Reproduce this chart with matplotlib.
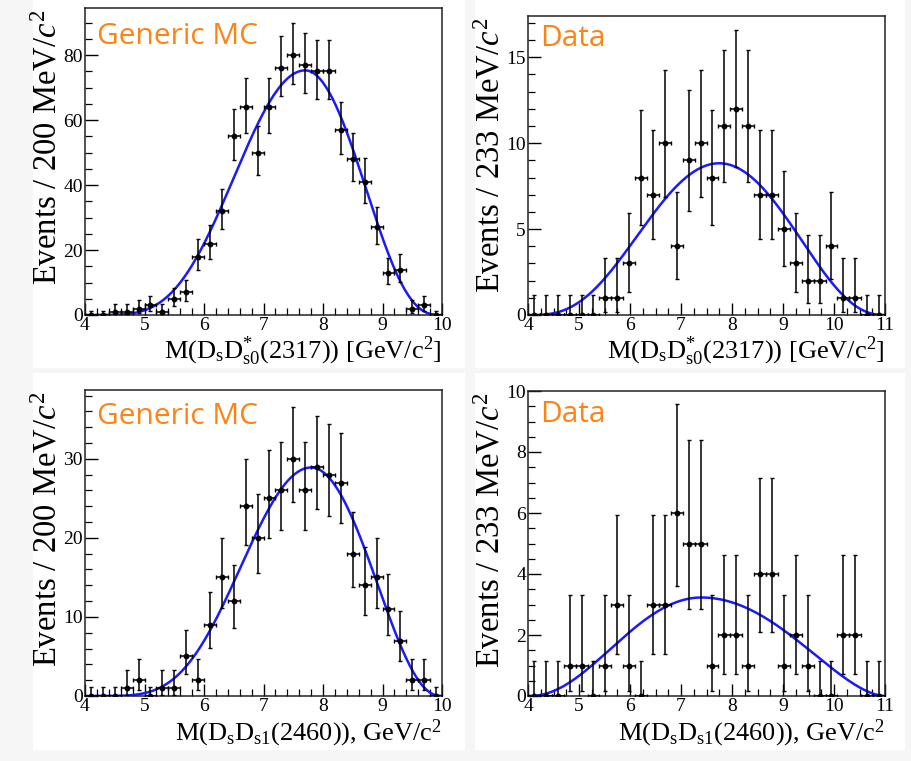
import math
import numpy as np
import matplotlib
matplotlib.use("Agg")
import matplotlib.pyplot as plt
from matplotlib.patches import Rectangle
from matplotlib.ticker import MultipleLocator

plt.rcParams["font.family"] = ["Liberation Serif", "DejaVu Serif"]
plt.rcParams["mathtext.fontset"] = "custom"
plt.rcParams["mathtext.rm"] = "Liberation Serif"
plt.rcParams["mathtext.it"] = "Liberation Serif:italic"
plt.rcParams["mathtext.bf"] = "Liberation Serif:bold"

# ---- histogram contents -------------------------------------------------
mc_range = (4.0, 10.0)          # 30 bins, 200 MeV
data_range = (4.0, 11.0)        # 30 bins, 233 MeV

mc_2317 = [0, 0, 1, 1, 2, 3, 1, 5, 7, 18, 22, 32, 55, 64, 50, 64, 76, 80,
           77, 75, 75, 57, 48, 41, 27, 13, 14, 2, 3, 0]
data_2317 = [0, 0, 0, 0, 0, 0, 1, 1, 3, 8, 7, 10, 4, 9, 10, 8, 11, 12,
             11, 7, 7, 5, 3, 2, 2, 4, 1, 1, 0, 0]
mc_2460 = [0, 0, 0, 1, 2, 0, 1, 1, 5, 2, 9, 15, 12, 24, 20, 25, 26, 30,
           26, 29, 28, 27, 18, 14, 15, 11, 7, 2, 2, 0]
data_2460 = [0, 0, 0, 1, 1, 0, 1, 3, 1, 0, 3, 3, 6, 5, 5, 1, 2, 2,
             1, 4, 4, 1, 2, 1, 0, 0, 2, 2, 0, 0]

# fitted shape: (amplitude, peak, lower end, left power, upper end, right power)
fit_mc_2317 = (75.3, 7.70, 4.0, 5.2, 10.0, 3.0)
fit_data_2317 = (8.83, 7.75, 4.0, 3.2, 11.0, 2.5)
fit_mc_2460 = (28.9, 7.80, 4.0, 5.6, 10.0, 2.4)
fit_data_2460 = (3.23, 7.40, 4.0, 2.3, 11.0, 1.8)

label_2317 = r"M(D$_{\mathrm{s}}$D$^{*}_{\mathrm{s0}}$(2317)) [GeV/c$^{2}$]"
label_2460 = r"M(D$_{\mathrm{s}}$D$_{\mathrm{s1}}$(2460)), GeV/c$^{2}$"

CL_TAIL = 0.158655  # one-sided tail of a 68.27% central interval


def poisson_cdf(n, mu):
    term = math.exp(-mu)
    total = term
    for k in range(1, n + 1):
        term *= mu / k
        total += term
    return total


def bisect(func, lo, hi, target, increasing):
    for _ in range(80):
        mid = 0.5 * (lo + hi)
        if (func(mid) < target) == increasing:
            lo = mid
        else:
            hi = mid
    return 0.5 * (lo + hi)


def poisson_interval(n):
    if n == 0:
        return 0.0, -math.log(2 * CL_TAIL)
    lo = bisect(lambda m: 1 - poisson_cdf(n - 1, m), 0.0, float(n), CL_TAIL, True)
    hi = bisect(lambda m: poisson_cdf(n, m), float(n), n + 10 * math.sqrt(n) + 10,
                CL_TAIL, False)
    return lo, hi


def shape(x, amp, mu, x_lo, p_lo, x_hi, p_hi):
    t_left = np.clip((mu - x) / (mu - x_lo), 0, 1)
    t_right = np.clip((x - mu) / (x_hi - mu), 0, 1)
    left = amp * (1 - t_left ** 2) ** p_lo
    right = amp * (1 - t_right ** 2) ** p_hi
    return np.where(x < mu, left, right)


W, H = 911, 761
fig = plt.figure(figsize=(W / 100, H / 100), dpi=100, facecolor="#f6f6f6")

# white panel backgrounds
for (x0, y0, x1, y1) in [(33, 0, 465, 368), (475, 0, 905, 368),
                         (33, 373, 465, 750), (475, 373, 905, 750)]:
    fig.patches.append(Rectangle((x0 / W, 1 - y1 / H), (x1 - x0) / W, (y1 - y0) / H,
                                 transform=fig.transFigure, facecolor="white",
                                 edgecolor="none", zorder=-10))


def px_axes(left, top, right, bottom):
    ax = fig.add_axes([left / W, 1 - bottom / H, (right - left) / W, (bottom - top) / H])
    ax.set_zorder(5)
    return ax


panels = [
    dict(box=(85, 8, 442, 315), counts=mc_2317, rng=mc_range, xlim=(4, 10),
         ylim=(0, 94.5), major=20, minor=5, fit=fit_mc_2317, tag="Generic MC",
         tag_xy=(97, 22), ylabel=r"Events / 200 MeV/$\mathit{c}^{2}$", xlabel=label_2317),
    dict(box=(528, 16, 885, 315), counts=data_2317, rng=data_range, xlim=(4, 11),
         ylim=(0, 17.4), major=5, minor=1, fit=fit_data_2317, tag="Data",
         tag_xy=(540, 24), ylabel=r"Events / 233 MeV/$\mathit{c}^{2}$", xlabel=label_2317),
    dict(box=(85, 390, 442, 696), counts=mc_2460, rng=mc_range, xlim=(4, 10),
         ylim=(0, 38.7), major=10, minor=2, fit=fit_mc_2460, tag="Generic MC",
         tag_xy=(97, 402), ylabel=r"Events / 200 MeV/$\mathit{c}^{2}$", xlabel=label_2460),
    dict(box=(528, 391, 885, 696), counts=data_2460, rng=data_range, xlim=(4, 11),
         ylim=(0, 10.0), major=2, minor=0.5, fit=fit_data_2460, tag="Data",
         tag_xy=(540, 400), ylabel=r"Events / 233 MeV/$\mathit{c}^{2}$", xlabel=label_2460),
]

for p in panels:
    ax = px_axes(*p["box"])
    ax.set_facecolor("white")
    counts = np.array(p["counts"], dtype=float)
    edges = np.linspace(p["rng"][0], p["rng"][1], len(counts) + 1)
    centers = 0.5 * (edges[:-1] + edges[1:])
    half = 0.5 * (edges[1] - edges[0])
    intervals = np.array([poisson_interval(int(n)) for n in counts])
    yerr = np.vstack([counts - intervals[:, 0], intervals[:, 1] - counts])

    xs = np.linspace(p["xlim"][0], p["xlim"][1], 800)
    ax.plot(xs, shape(xs, *p["fit"]), color="#1a1aff", lw=1.8, zorder=2)
    ax.errorbar(centers, counts, xerr=half, yerr=yerr, fmt="o", ms=3.2,
                color="black", ecolor="black", elinewidth=1.1, capsize=1.3,
                capthick=1.0, zorder=3)

    ax.set_xlim(*p["xlim"])
    ax.set_ylim(*p["ylim"])
    ax.xaxis.set_major_locator(MultipleLocator(1))
    ax.xaxis.set_minor_locator(MultipleLocator(0.2 if p["xlim"][1] == 10 else 0.25))
    ax.yaxis.set_major_locator(MultipleLocator(p["major"]))
    ax.yaxis.set_minor_locator(MultipleLocator(p["minor"]))
    ax.tick_params(which="both", direction="in", top=False, right=False,
                   labelsize=14, colors="black")
    ax.tick_params(which="major", length=9, width=1.0, pad=1.5)
    ax.tick_params(which="minor", length=5, width=0.9)
    for s in ax.spines.values():
        s.set_linewidth(1.1)
        s.set_color("#222222")

    l, t, r, b = p["box"]
    fig.text(r / W, 1 - (359 if b < 400 else 740) / H, p["xlabel"],
             ha="right", va="baseline", fontsize=19, zorder=6)
    fig.text((l - 21) / W, 1 - (t + 2) / H, p["ylabel"], rotation=90,
             ha="right", va="top", fontsize=23.5, zorder=6)
    tx, ty = p["tag_xy"]
    fig.text(tx / W, 1 - ty / H, p["tag"], ha="left", va="top", zorder=7,
             fontsize=21.5, color="#ff8214", family=["Open Sans", "DejaVu Sans"])

fig.savefig("out.png", dpi=100, facecolor=fig.get_facecolor())
